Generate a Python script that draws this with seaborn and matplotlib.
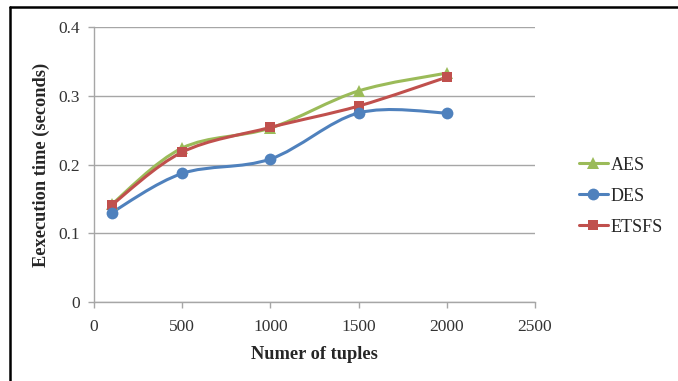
import pandas as pd
import seaborn as sns
import matplotlib.pyplot as plt
from matplotlib.lines import Line2D
from matplotlib.path import Path
from matplotlib.patches import PathPatch

tuples = [100, 500, 1000, 1500, 2000]
aes = [0.142, 0.224, 0.253, 0.307, 0.333]
des = [0.130, 0.187, 0.208, 0.275, 0.275]
etsfs = [0.141, 0.218, 0.254, 0.285, 0.327]

x_ticks = [0, 500, 1000, 1500, 2000, 2500]
y_ticks = [0, 0.1, 0.2, 0.3, 0.4]
y_labels = ['0', '0.1', '0.2', '0.3', '0.4']

df = pd.DataFrame({
    'tuples': tuples * 3,
    'time': aes + des + etsfs,
    'method': ['AES'] * 5 + ['DES'] * 5 + ['ETSFS'] * 5,
})

sns.set_style('white')
plt.rcParams['font.family'] = ['Liberation Serif', 'DejaVu Serif']

fig = plt.figure(figsize=(6.78, 3.81), dpi=100)
ax = fig.add_axes([0.1386, 0.2073, 0.6504, 0.7218])

palette = {'AES': '#9BBB59', 'DES': '#4F81BD', 'ETSFS': '#C0504D'}
markers = {'AES': '^', 'DES': 'o', 'ETSFS': 's'}
sizes = {'AES': 8, 'DES': 8.5, 'ETSFS': 7}
LW = 2.2


def smooth_path(xs, ys):
    # Excel-like smoothed line: Catmull-Rom segments as cubic Bezier curves
    pts = list(zip(xs, ys))
    verts = [pts[0]]
    codes = [Path.MOVETO]
    n = len(pts)
    for i in range(n - 1):
        p0 = pts[max(i - 1, 0)]
        p1 = pts[i]
        p2 = pts[i + 1]
        p3 = pts[min(i + 2, n - 1)]
        c1 = (p1[0] + (p2[0] - p0[0]) / 6, p1[1] + (p2[1] - p0[1]) / 6)
        c2 = (p2[0] - (p3[0] - p1[0]) / 6, p2[1] - (p3[1] - p1[1]) / 6)
        verts += [c1, c2, p2]
        codes += [Path.CURVE4] * 3
    return Path(verts, codes)


for m in ['AES', 'ETSFS', 'DES']:
    sub = df[df['method'] == m]
    ax.add_patch(PathPatch(smooth_path(sub['tuples'].tolist(), sub['time'].tolist()),
                           facecolor='none', edgecolor=palette[m], linewidth=LW,
                           capstyle='round', joinstyle='round', zorder=3))
    sns.lineplot(data=sub, x='tuples', y='time', color=palette[m], marker=markers[m],
                 markersize=sizes[m], markeredgewidth=0, linewidth=0, ax=ax, zorder=4)

ax.set_xlim(0, 2500)
ax.set_ylim(0, 0.4)
ax.set_xticks(x_ticks)
ax.set_yticks(y_ticks)
ax.set_yticklabels(y_labels)
ax.yaxis.grid(True, color='#a6a6a6', linewidth=1)
ax.xaxis.grid(False)
for s in ['top', 'right']:
    ax.spines[s].set_visible(False)
for s in ['left', 'bottom']:
    ax.spines[s].set_color('#a6a6a6')
    ax.spines[s].set_linewidth(1)
ax.tick_params(axis='both', which='major', direction='out', length=4, width=1,
               color='#a6a6a6', labelsize=12.5, labelcolor='#333333',
               bottom=True, left=True)
ax.tick_params(axis='x', pad=8)
ax.tick_params(axis='y', pad=6)
ax.set_xlabel('Numer of tuples', fontsize=13.2, fontweight='bold', labelpad=8)
ax.set_ylabel('Eexecution time (seconds)', fontsize=13.2, fontweight='bold', labelpad=6)

handles = [Line2D([0], [0], color=palette[m], marker=markers[m], markersize=sizes[m],
                  markeredgewidth=0, linewidth=LW) for m in ['AES', 'DES', 'ETSFS']]
fig.legend(handles, ['AES', 'DES', 'ETSFS'], loc='center left',
           bbox_to_anchor=(0.83, 0.485), frameon=False, fontsize=13,
           handlelength=1.6, handletextpad=0.15, labelspacing=0.78)

# outer frame
fig.add_artist(Line2D([10 / 678, 10 / 678], [0, 1 - 7 / 381], color='black', linewidth=1.8,
                      transform=fig.transFigure))
fig.add_artist(Line2D([10 / 678, 1], [1 - 7 / 381, 1 - 7 / 381], color='black', linewidth=1.8,
                      transform=fig.transFigure))

fig.savefig('out.png', dpi=100)
